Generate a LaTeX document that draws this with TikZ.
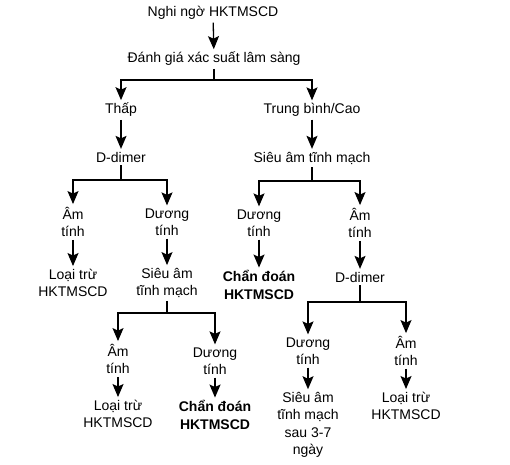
\documentclass[tikz,border=0pt]{standalone}
\usepackage{fontspec}
\setmainfont{Liberation Sans}
\usetikzlibrary{arrows.meta}
\begin{document}
\begin{tikzpicture}[x=1pt,y=-1pt,
  box/.style={align=center,inner sep=1pt,outer sep=2pt,font=\fontsize{14}{17.5}\selectfont},
  bbox/.style={box,font=\fontsize{14}{17.5}\selectfont\bfseries},
  ln/.style={line width=1.3pt},
  arr/.style={ln,-{Stealth[width=11pt,length=13pt,inset=2.5pt]}}]
\useasboundingbox[fill=white] (0,0) rectangle (510,464);
% nodes
\node[box] (n0) at (213,13) {Nghi ngờ HKTMSCD};
\node[box] (n1) at (214,59) {Đánh giá xác suất lâm sàng};
\node[box] (thap) at (121,110) {Thấp};
\node[box] (tb) at (312,110) {Trung bình/Cao};
\node[box] (dd1) at (121,157) {D-dimer};
\node[box] (am1) at (73,222) {Âm\\tính};
\node[box] (du1) at (167,222) {Dương\\tính};
\node[box] (lt1) at (73,283) {Loại trừ\\HKTMSCD};
\node[box] (sa1) at (167,283) {Siêu âm\\tĩnh mạch};
\node[box] (am2) at (118,359) {Âm\\tính};
\node[box] (du2) at (215,361) {Dương\\tính};
\node[box] (lt2) at (118,414) {Loại trừ\\HKTMSCD};
\node[bbox] (cd2) at (215,415) {Chẩn đoán\\HKTMSCD};
\node[box] (sa0) at (312,158) {Siêu âm tĩnh mạch};
\node[box] (du3) at (259,223) {Dương\\tính};
\node[box] (am3) at (360,223) {Âm\\tính};
\node[bbox] (cd3) at (259,285) {Chẩn đoán\\HKTMSCD};
\node[box] (dd2) at (360,277) {D-dimer};
\node[box] (du4) at (308,351) {Dương\\tính};
\node[box] (am4) at (406,351) {Âm\\tính};
\node[box] (sa4) at (308,425) {Siêu âm\\tĩnh mạch\\sau 3-7\\ngày};
\node[box] (lt4) at (406,406) {Loại trừ\\HKTMSCD};
% bar levels
\coordinate (b1) at (0,80);
\coordinate (b2) at (0,180);
\coordinate (b3) at (0,313);
\coordinate (b4) at (0,181);
\coordinate (b5) at (0,302);
% connectors
\draw[arr] (n0) -- (n1);
\draw[ln] (n1) -- (n1 |- b1);
\draw[arr] (n1 |- b1) -| (thap);
\draw[arr] (n1 |- b1) -| (tb);
\draw[arr] (thap) -- (dd1);
\draw[ln] (dd1) -- (dd1 |- b2);
\draw[arr] (dd1 |- b2) -| (am1);
\draw[arr] (dd1 |- b2) -| (du1);
\draw[arr] (am1) -- (lt1);
\draw[arr] (du1) -- (sa1);
\draw[ln] (sa1) -- (sa1 |- b3);
\draw[arr] (sa1 |- b3) -| (am2);
\draw[arr] (sa1 |- b3) -| (du2);
\draw[arr] (am2) -- (lt2);
\draw[arr] (du2) -- (cd2);
\draw[arr] (tb) -- (sa0);
\draw[ln] (sa0) -- (sa0 |- b4);
\draw[arr] (sa0 |- b4) -| (du3);
\draw[arr] (sa0 |- b4) -| (am3);
\draw[arr] (du3) -- (cd3);
\draw[arr] (am3) -- (dd2);
\draw[ln] (dd2) -- (dd2 |- b5);
\draw[arr] (dd2 |- b5) -| (du4);
\draw[arr] (dd2 |- b5) -| (am4);
\draw[arr] (du4) -- (sa4);
\draw[arr] (am4) -- (lt4);
\end{tikzpicture}
\end{document}
